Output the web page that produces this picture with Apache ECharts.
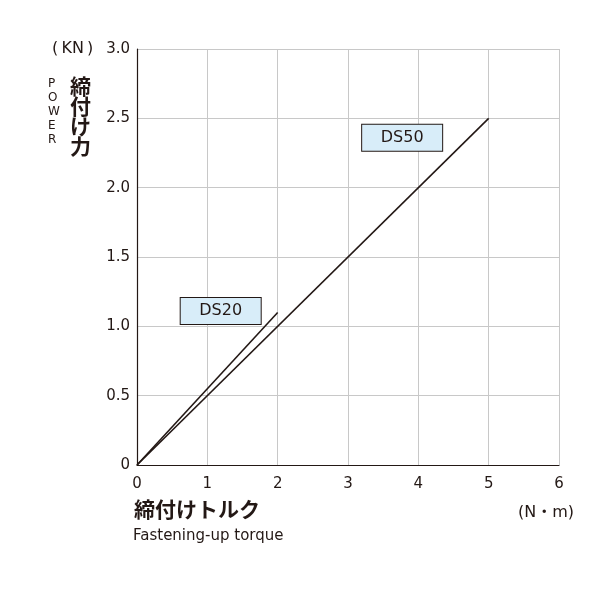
<!DOCTYPE html>
<html><head><meta charset="utf-8">
<script src="https://cdn.jsdelivr.net/npm/echarts@6/dist/echarts.min.js"></script>
<style>html,body{margin:0;padding:0;background:#fff}#c{width:600px;height:600px}</style>
</head><body><div id="c"></div>
<script>
const ds20 = [[0, 0], [2, 1.1]];
const ds50 = [[0, 0], [5, 2.5]];
const labels = [
  { name: 'DS20', pos: [1.19, 1.11] },
  { name: 'DS50', pos: [3.77, 2.36] }
];
const xTicks = [0, 1, 2, 3, 4, 5, 6];
const yTicks = [0, 0.5, 1.0, 1.5, 2.0, 2.5, 3.0];

const ink = '#231815';
const font = '"DejaVu Sans", sans-serif';
const mixed = '"DejaVu Sans", "Noto Sans CJK JP", sans-serif';
const cjk = '"Noto Sans CJK JP", sans-serif';
const chart = echarts.init(document.getElementById('c'));
chart.setOption({
  animation: false,
  backgroundColor: '#fff',
  grid: { left: 137, right: 41, top: 49, bottom: 135 },
  xAxis: {
    type: 'value', min: 0, max: 6, interval: 1,
    axisLine: { show: true, lineStyle: { color: ink, width: 1.2 } },
    axisTick: { show: false },
    axisLabel: { color: ink, fontSize: 15, fontFamily: font, margin: 12 },
    splitLine: { show: true, lineStyle: { color: '#c8c8c8', width: 1 } }
  },
  yAxis: {
    type: 'value', min: 0, max: 3, interval: 0.5,
    axisLine: { show: true, lineStyle: { color: ink, width: 1.2 } },
    axisTick: { show: false },
    axisLabel: { color: ink, fontSize: 15, fontFamily: font, margin: 7,
      formatter: v => v === 0 ? '0' : v.toFixed(1) },
    splitLine: { show: true, lineStyle: { color: '#c8c8c8', width: 1 } }
  },
  series: [
    { type: 'line', data: ds20, symbol: 'none', lineStyle: { color: ink, width: 1.6 } },
    { type: 'line', data: ds50, symbol: 'none', lineStyle: { color: ink, width: 1.6 } },
    { type: 'scatter', symbolSize: 0, z: 10, itemStyle: { opacity: 1 },
      data: labels.map(l => ({ name: l.name, value: l.pos })),
      label: { show: true, position: 'inside', formatter: p => p.name,
        color: ink, fontSize: 16, fontFamily: font, opacity: 1,
        backgroundColor: '#d8edf9', borderColor: ink, borderWidth: 1,
        width: 80, height: 26, lineHeight: 26, align: 'center', verticalAlign: 'middle' } }
  ],
  graphic: [
    { type: 'text', left: 52, top: 41, style: { text: '(\u2009KN\u2009)', fill: ink, font: '16px ' + font } },
    { type: 'text', left: 48, top: 77, style: { text: 'P\nO\nW\nE\nR', fill: ink, font: '12px ' + font, lineHeight: 14, align: 'center', width: 12 } },
    { type: 'text', left: 70, top: 76, style: { text: '締\n付\nけ\n力', fill: ink, font: 'bold 21px ' + cjk, lineHeight: 20 } },
    { type: 'text', left: 134, top: 499, style: { text: '締付けトルク', fill: ink, font: 'bold 21px ' + cjk } },
    { type: 'text', left: 133, top: 529, style: { text: 'Fastening-up torque', fill: ink, font: '15px ' + font } },
    { type: 'text', left: 518, top: 505, style: { text: '(N・m)', fill: ink, font: '16px ' + mixed } }
  ]
});
</script></body></html>
